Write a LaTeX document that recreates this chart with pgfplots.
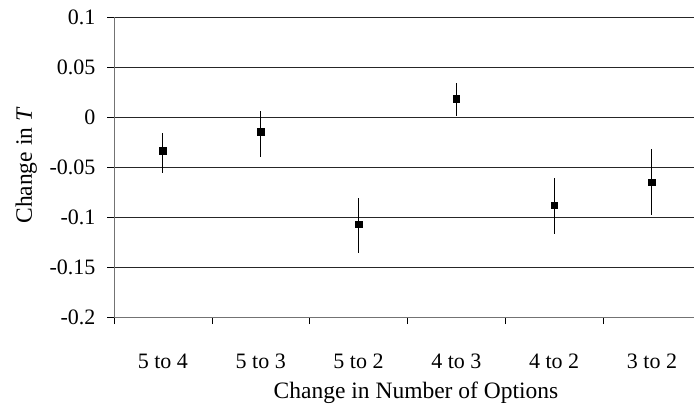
\documentclass[border=0pt]{standalone}
\usepackage{fontspec}
\setmainfont{Liberation Serif}
\usepackage{pgfplots}
\pgfplotsset{compat=1.18}

\pgfplotstableread{
x y ep em
0 -0.034 0.018 0.022
1 -0.015 0.021 0.025
2 -0.107 0.026 0.029
3  0.018 0.016 0.017
4 -0.088 0.027 0.029
5 -0.065 0.033 0.033
}\changeT

\begin{document}
\begin{tikzpicture}
\begin{axis}[
    scale only axis,
    width=580pt, height=300pt,
    xmin=-0.5, xmax=5.43,
    ymin=-0.2, ymax=0.1,
    axis x line=bottom, axis y line=left,
    axis line style={draw=gray!90!black, line width=0.9pt, -},
    xtick={0,1,2,3,4,5},
    xticklabels={5 to 4,5 to 3,5 to 2,4 to 3,4 to 2,3 to 2},
    minor xtick={-0.5,0.5,1.5,2.5,3.5,4.5},
    major x tick style={draw=none},
    minor x tick style={black, line width=0.6pt},
    minor tick length=7pt,
    ytick={-0.2,-0.15,-0.1,-0.05,0,0.05,0.1},
    yticklabels={-0.2,-0.15,-0.1,-0.05,0,0.05,0.1},
    major tick length=7pt,
    tick align=outside,
    y tick style={black, line width=0.8pt},
    ymajorgrids,
    grid style={black!85, line width=0.8pt},
    tick label style={font=\fontsize{22}{26}\selectfont},
    label style={font=\fontsize{23.5}{28}\selectfont},
    xticklabel style={anchor=base, yshift=-44pt},
    yticklabel style={xshift=-8pt},
    xlabel={Change in Number of Options},
    ylabel={Change in \textit{T}},
    xlabel style={at={(axis description cs:0.5207,-0.2733)}, anchor=base},
    ylabel style={at={(axis description cs:-0.1414,0.505)}, anchor=base},
    clip=false,
]
\addplot[black, only marks, mark=square*, mark size=3.3pt,
    error bars/.cd, y dir=both, y explicit, error mark=none,
    error bar style={black, line width=1pt}]
    table[x=x, y=y, y error plus=ep, y error minus=em] {\changeT};
\coordinate (bl) at (rel axis cs:0,0);
\coordinate (tr) at (rel axis cs:1,1);
\end{axis}
\pgfresetboundingbox
\path ([xshift=-114pt,yshift=-87pt]bl) rectangle ([yshift=17pt]tr);
\end{tikzpicture}
\end{document}
